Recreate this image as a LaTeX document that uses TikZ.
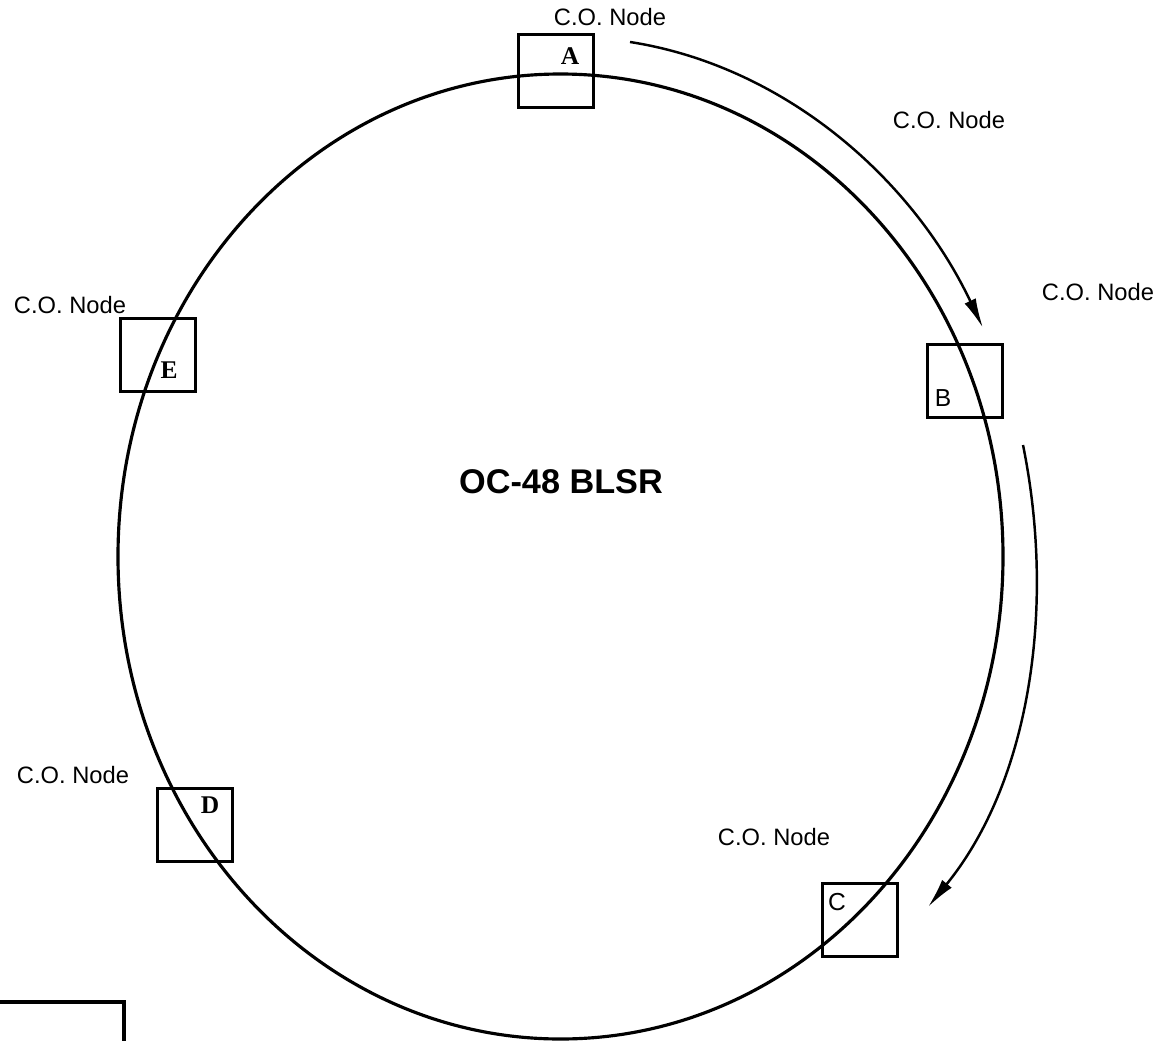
\documentclass[tikz,border=0pt]{standalone}
\usepackage{fontspec}
\setmainfont{Liberation Serif}
\setsansfont{Liberation Sans}
\usepackage{tikz}
\usetikzlibrary{arrows.meta,positioning}

\begin{document}
\begin{tikzpicture}[
			x=0.02cm, y=-0.02cm,
			cobox/.style={rectangle, draw, line width=1.6pt, minimum width=1.5cm, minimum height=1.46cm, inner sep=0pt},
			colabel/.style={font=\sffamily\fontsize{13.5}{16}\selectfont, inner sep=0pt},
			serifid/.style={font=\rmfamily\bfseries\fontsize{14.5}{16}\selectfont, inner sep=0pt},
			sansid/.style={font=\sffamily\fontsize{14}{16}\selectfont, inner sep=0pt},
			ring/.style={line width=1.8pt},
			flow/.style={draw, line width=1.4pt, -{Latex[length=17pt, width=7pt]}}
			]
			\useasboundingbox (0,0) rectangle (1160,1041);
			% Ring
			\draw[ring] (560.5,556.5) ellipse [x radius=442.5, y radius=482.5];
			\node[font=\sffamily\bfseries\fontsize{19.5}{22}\selectfont] (ring) at (561,482) {OC-48 BLSR};
			
			% Nodos
			\node[cobox] (boxA) at (556,71) {};
			\node[cobox] (boxB) at (965,381) {};
			\node[cobox] (boxC) at (860,920) {};
			\node[cobox] (boxD) at (195,825) {};
			\node[cobox] (boxE) at (158,355) {};
			\node[serifid] (idA) at (570,56) {A};
			\node[sansid] (idB) at (943,398) {B};
			\node[sansid] (idC) at (837,902) {C};
			\node[serifid] (idD) at (210,805) {D};
			\node[serifid] (idE) at (169,370) {E};
			
			% Etiquetas
			\node[colabel] (labA) at (610,17) {C.O. Node};
			\node[colabel] (labAB) at (949,120) {C.O. Node};
			\node[colabel] (labB) at (1098,292) {C.O. Node};
			\node[colabel] (labC) at (774,837) {C.O. Node};
			\node[colabel] (labD) at (73,775) {C.O. Node};
			\node[colabel] (labE) at (70,305) {C.O. Node};
			
			% Sentido
			\coordinate (flowAstart) at (630,42);
			\coordinate (flowAend) at (983,328);
			\coordinate (flowBstart) at (1023,445);
			\coordinate (flowBend) at (928,907);
			\path[flow] (flowAstart) .. controls (784,66) and (912,178) .. (flowAend);
			\path[flow] (flowBstart) .. controls (1056,607) and (1030,782) .. (flowBend);
			
			% Marco
			\draw[line width=2.8pt] (0,1002) -- (124,1002) -- (124,1050);
		\end{tikzpicture}
\end{document}
